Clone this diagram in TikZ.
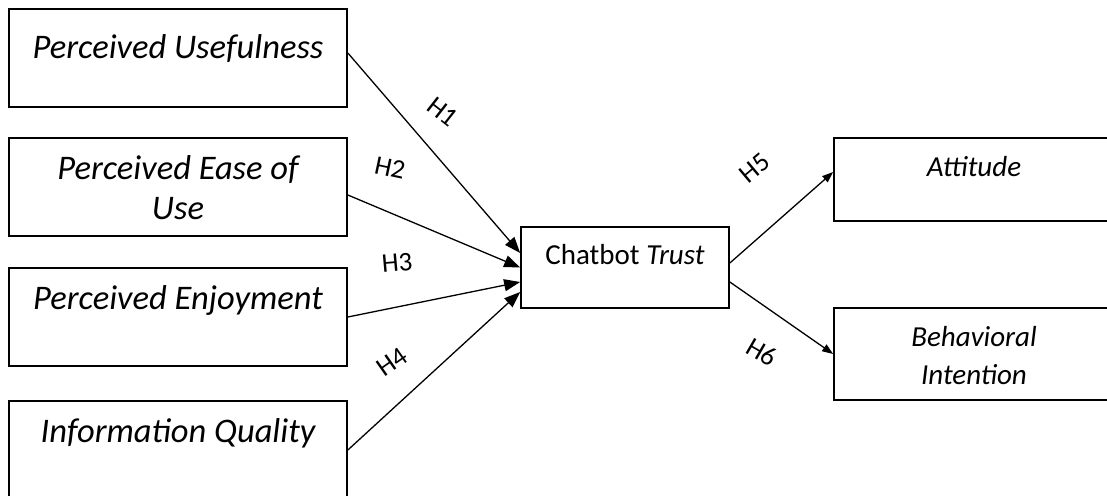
\documentclass[tikz,border=0pt]{standalone}
\usepackage{fontspec}
\setmainfont{Carlito}
\usetikzlibrary{positioning,arrows.meta}

\begin{document}
\begin{tikzpicture}[x=1pt, y=-1pt,
  lbox/.style={draw, line width=1.7pt, minimum width=338pt, minimum height=98pt, inner sep=0pt},
  rbox/.style={draw, line width=1.7pt, minimum width=280pt, inner sep=0pt},
  big/.style={font=\fontsize{34.5}{40}\selectfont\itshape, align=center, anchor=base, inner sep=0pt},
  small/.style={font=\fontsize{29}{38}\selectfont, align=center, anchor=base, inner sep=0pt},
  hyp/.style={font=\fontsize{27}{30}\selectfont, inner sep=0pt},
  ar/.style={-{Triangle[length=16pt, width=12pt]}, line width=1.3pt},
  ars/.style={-{Triangle[length=11pt, width=8pt]}, line width=1.3pt}]
\useasboundingbox (0,0) rectangle (1107,495);
% constructs on the left
\node[lbox] (pu)  at (178,58)  {};
\node[lbox] (peu) at (178,187) {};
\node[lbox] (pe)  at (178,317) {};
\node[lbox] (iq)  at (178,450) {};
% mediator and outcomes
\node[draw, line width=1.7pt, minimum width=208pt, minimum height=81pt, inner sep=0pt] (ct) at (625,267.5) {};
\node[rbox, minimum height=83pt] (att) at (974,179.5) {};
\node[rbox, minimum height=92pt] (bi)  at (974,354) {};
% box texts (base = last line)
\node[big] (pu-t)  at ([yshift=-50pt]pu.north)  {Perceived Usefulness};
\node[big] (peu-t) at ([yshift=-82pt]peu.north) {Perceived Ease of\\Use};
\node[big] (pe-t)  at ([yshift=-42pt]pe.north)  {Perceived Enjoyment};
\node[big] (iq-t)  at ([yshift=-42pt]iq.north)  {Information Quality};
\node[small] (ct-t)  at ([yshift=-38pt]ct.north)  {Chatbot \textit{Trust}};
\node[small] (att-t) at ([yshift=-39pt]att.north) {\textit{Attitude}};
\node[small] (bi-t)  at ([yshift=-77pt]bi.north)  {\textit{Behavioral}\\\textit{Intention}};
% paths
\draw[ar] ([yshift=5pt]pu.east) -- ([yshift=14.5pt]ct.west);
\draw[ar] ([yshift=-8pt]peu.east) -- (ct.west);
\draw[ar] (pe.east) -- ([yshift=-14.5pt]ct.west);
\draw[ar] (iq.east) -- ([yshift=-24.5pt]ct.west);
\draw[ars] ([yshift=4.5pt]ct.east) -- ([yshift=7.5pt]att.west);
\draw[ars] ([yshift=-14.5pt]ct.east) -- (bi.west);
% hypotheses
\node[hyp, rotate=-38] (h1) at (443,112) {H1};
\node[hyp, rotate=-12] (h2) at (390,168) {H2};
\node[hyp, rotate=5]   (h3) at (397,263) {H3};
\node[hyp, rotate=35]  (h4) at (392,362) {H4};
\node[hyp, rotate=40]  (h5) at (755,168) {H5};
\node[hyp, rotate=-30] (h6) at (762,352) {H6};
\end{tikzpicture}
\end{document}
